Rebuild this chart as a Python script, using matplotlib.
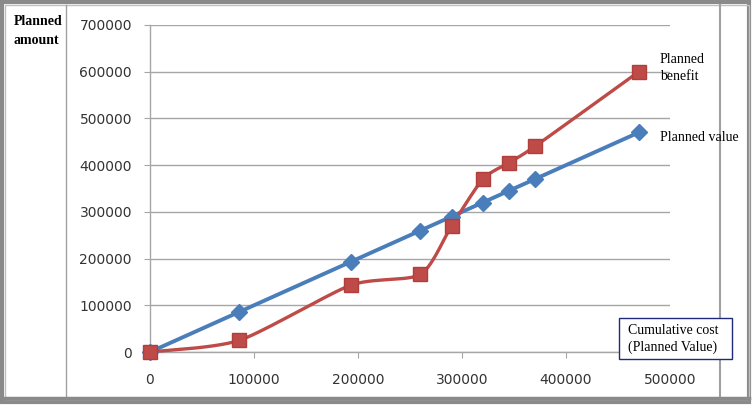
import numpy as np
import matplotlib.pyplot as plt
from matplotlib.patches import Rectangle
from matplotlib.lines import Line2D

# cumulative cost (x) and planned amounts (y)
cost = [0, 86000, 193000, 260000, 290000, 320000, 345000, 370000, 470000]
planned_value = [0, 86000, 193000, 260000, 290000, 320000, 345000, 370000, 470000]
planned_benefit = [0, 25000, 143000, 166000, 270000, 370000, 405000, 440000, 600000]
xticks = [0, 100000, 200000, 300000, 400000, 500000]
yticks = [0, 100000, 200000, 300000, 400000, 500000, 600000, 700000]

W, H = 753, 405
fig = plt.figure(figsize=(W / 100, H / 100), dpi=100)


def fx(px):
    return px / W


def fy(py):
    return 1 - py / H


ax = fig.add_axes([fx(150), fy(352), fx(670) - fx(150), fy(25) - fy(352)])


def smooth(x, y, n=30, t=0.5):
    # Catmull-Rom style curve through the points, like a "smoothed line" chart
    x = np.asarray(x, float)
    y = np.asarray(y, float)
    px = np.concatenate([[x[0]], x, [x[-1]]])
    py = np.concatenate([[y[0]], y, [y[-1]]])
    xs, ys = [], []
    for i in range(1, len(px) - 2):
        p0, p1, p2, p3 = (np.array([px[j], py[j]]) for j in range(i - 1, i + 3))
        m1 = t * (p2 - p0)
        m2 = t * (p3 - p1)
        s = np.linspace(0, 1, n)[:, None]
        h00 = 2 * s**3 - 3 * s**2 + 1
        h10 = s**3 - 2 * s**2 + s
        h01 = -2 * s**3 + 3 * s**2
        h11 = s**3 - s**2
        seg = h00 * p1 + h10 * m1 + h01 * p2 + h11 * m2
        xs.extend(seg[:, 0])
        ys.extend(seg[:, 1])
    return xs, ys


blue = '#4a7ebb'
red = '#be4b48'

ax.plot(cost, planned_value, color=blue, lw=2.8, zorder=3, solid_capstyle='round')
ax.plot(cost, planned_value, ls='none', marker='D', ms=8.5, color=blue, zorder=4)
sx, sy = smooth(cost, planned_benefit, t=0.35)
ax.plot(sx, sy, color=red, lw=2.4, zorder=3)
ax.plot(cost, planned_benefit, ls='none', marker='s', ms=10.5, color=red,
        mec='#b03f3c', zorder=5)

ax.set_xlim(0, 500000)
ax.set_ylim(0, 700000)
ax.set_xticks(xticks)
ax.set_yticks(yticks)
ax.set_xticklabels([str(v) for v in xticks])
ax.set_yticklabels([str(v) for v in yticks])
ax.grid(axis='y', color='#a6a6a6', lw=1.0)
ax.set_axisbelow(True)
for s in ['top', 'right']:
    ax.spines[s].set_visible(False)
for s in ['left', 'bottom']:
    ax.spines[s].set_color('#a6a6a6')
    ax.spines[s].set_linewidth(1.0)
ax.tick_params(axis='y', length=4, pad=9, color='#a6a6a6', labelsize=10, labelcolor='#333333')
ax.tick_params(axis='x', length=4, pad=11, color='#a6a6a6', labelsize=10, labelcolor='#333333')
for line in ax.lines:
    line.set_clip_on(False)

serif = 'Liberation Serif'
fig.text(fx(14), fy(31), 'Planned\namount', fontfamily=serif, fontweight='bold',
         fontsize=10, va='center', ha='left', linespacing=1.6)
fig.text(fx(660), fy(68), 'Planned\nbenefit', fontfamily=serif, fontsize=10,
         va='center', ha='left', linespacing=1.45)
fig.text(fx(660), fy(137), 'Planned value', fontfamily=serif, fontsize=10,
         va='center', ha='left')
fig.add_artist(Rectangle((fx(619), fy(359)), fx(732) - fx(619), fy(318) - fy(359),
                         transform=fig.transFigure, facecolor='white',
                         edgecolor='#1f2a7a', lw=1.0, zorder=6))
fig.text(fx(628), fy(339), 'Cumulative cost\n(Planned Value)', fontfamily=serif,
         fontsize=10, va='center', ha='left', linespacing=1.4, zorder=7)

# frame lines
gray = '#8a8a8a'
fig.add_artist(Rectangle((fx(1.5), fy(401.5)), fx(747), fy(1.5) - fy(401.5),
                         transform=fig.transFigure, facecolor='none',
                         edgecolor=gray, lw=3))
fig.add_artist(Rectangle((fx(4.5), fy(398.5)), fx(744), fy(4.5) - fy(398.5),
                         transform=fig.transFigure, facecolor='none',
                         edgecolor='#c0c0c0', lw=1))
fig.add_artist(Line2D([fx(66), fx(66)], [fy(5), fy(398)], transform=fig.transFigure,
                      color='#a0a0a0', lw=1))
fig.add_artist(Line2D([fx(720), fx(720)], [fy(5), fy(398)], transform=fig.transFigure,
                      color='#a0a0a0', lw=1.5))
fig.add_artist(Line2D([fx(4), fx(749)], [fy(398), fy(398)], transform=fig.transFigure,
                      color=gray, lw=2.5))

fig.savefig('out.png', dpi=100)
